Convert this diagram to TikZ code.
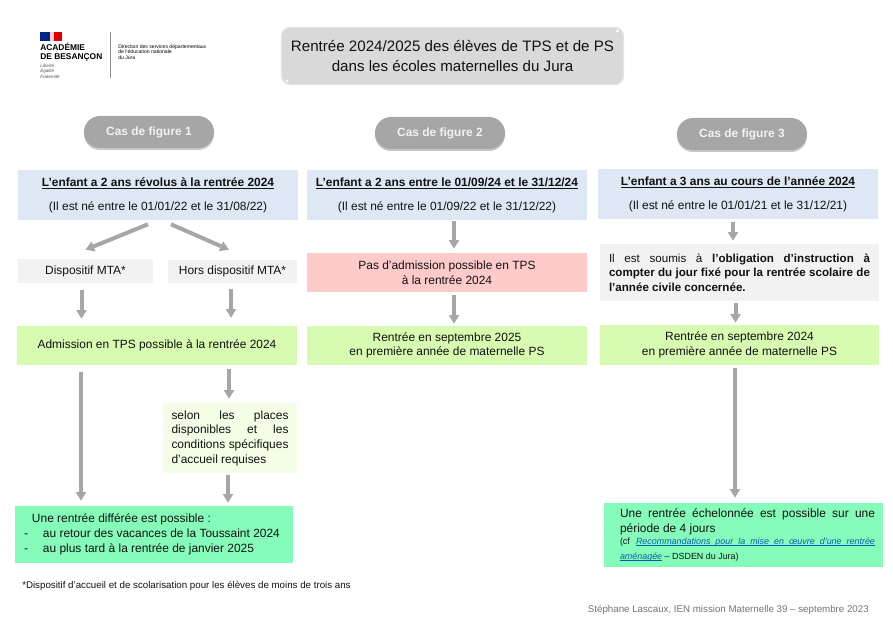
\documentclass[tikz,border=0pt]{standalone}
\usepackage{fontspec}
\setmainfont{Liberation Sans}
\usetikzlibrary{arrows.meta,shadows}
\definecolor{hdr}{HTML}{DDE8F4}
\definecolor{graybox}{HTML}{F2F2F2}
\definecolor{greenbox}{HTML}{D8FBB2}
\definecolor{palegreen}{HTML}{F4FEE6}
\definecolor{redbox}{HTML}{FFCACA}
\definecolor{mint}{HTML}{85FCB9}
\definecolor{arrowgray}{HTML}{A6A6A6}
\definecolor{pill}{HTML}{A6A6A6}
\definecolor{titlegray}{HTML}{D9D9D9}
\definecolor{linkblue}{HTML}{0B5FB5}
\definecolor{txt}{HTML}{111111}
\newlength{\px}\setlength{\px}{0.75pt}
\newcommand{\bodyfont}{\fontsize{8.95}{11}\selectfont}
\newcommand{\natsp}{\spaceskip=0pt\xspaceskip=0pt\relax}
\newcommand{\jl}[2]{\makebox[#1\px][s]{\natsp #2}}
\newcommand{\ulbox}[1]{\leavevmode\sbox0{#1}\rlap{\color{linkblue}\rule[-1.1pt]{\wd0}{.8pt}}\usebox0}
\tikzset{
  x=0.75pt,y=-0.75pt,
  every node/.append style={execute at begin node={\natsp}},
  flat/.style n args={3}{draw=none,fill=#1,minimum width=#2*0.75pt,minimum height=#3*0.75pt,inner sep=0pt,text=txt,font=\bodyfont,align=center},
  tw/.style={text width=#1*0.75pt,align=left},
  pillbox/.style={draw=none,fill=pill,rounded corners=11.9pt,minimum width=130*0.75pt,minimum height=32*0.75pt,inner sep=0pt,text=graybox,font=\bodyfont\bfseries,drop shadow={shadow xshift=0pt,shadow yshift=-1.5pt,opacity=.22,fill=black}},
  titlebox/.style={draw=titlegray!70!white,line width=1pt,fill=titlegray,rounded corners=6.5pt,minimum width=342*0.75pt,minimum height=57*0.75pt,inner sep=0pt,align=center,font=\fontsize{11.35}{14.5}\selectfont,text=txt},
  arr/.style={draw=arrowgray,line width=3pt,-{Triangle[width=7.5pt,length=6.5pt]}},
  free/.style={inner sep=0pt,anchor=west,align=left},
}
\begin{document}
\begin{tikzpicture}
\useasboundingbox (0,0) rectangle (893,623);
% logo
\fill[blue!45!black!85!cyan] (40,32) rectangle (50,41);
\fill[red!85!black] (54,32) rectangle (62,41);
\fill[white!80!red] (50,32) rectangle (54,41);
\node[free,font=\fontsize{6.3}{6.8}\selectfont\bfseries] (acad) at (40,52) {ACADÉMIE\\DE BESANÇON};
\node[free,font=\fontsize{3.4}{4.1}\selectfont\itshape,text=black!70] (dev) at (40,71) {Liberté\\Égalité\\Fraternité};
\draw[black!45,line width=.6pt] (110,32) -- (110,78);
\node[free,font=\fontsize{3.82}{4.2}\selectfont] (dsd) at (118,52) {Direction des services départementaux\\de l'éducation nationale\\du Jura};
% title
\node[titlebox] (title) at (452.5,56) {Rentrée 2024/2025 des élèves de TPS et de PS\\dans les écoles maternelles du Jura};
\fill[white] (617.5,31) circle (1.6);
\fill[white] (287,81) circle (1.6);
% pills
\node[pillbox] (c1) at (149,132) {Cas de figure 1};
\node[pillbox] (c2) at (440,133) {Cas de figure 2};
\node[pillbox] (c3) at (742,134) {Cas de figure 3};
% column 1
\node[flat={hdr}{280}{50}] (h1) at (158,195) {\textbf{\underline{L'enfant a 2 ans révolus à la rentrée 2024}}\\[7pt](Il est né entre le 01/01/22 et le 31/08/22)};
\node[flat={graybox}{135}{24}] (disp) at (85.5,271) {Dispositif MTA*};
\node[flat={graybox}{129}{23}] (hors) at (232.5,271.5) {Hors dispositif MTA*};
\node[flat={greenbox}{280}{39}] (adm) at (157,345.5) {Admission en TPS possible à la rentrée 2024};
\node[flat={palegreen}{134}{70},tw=117] (selon) at (230,438) {\jl{117}{selon les places}\\\jl{117}{disponibles et les}\\\jl{117}{conditions spécifiques}\\d’accueil requises};
\node[flat={mint}{278}{57},tw=268] (diff) at (154,534.5) {\hspace*{12\px}Une rentrée différée est possible :\\\hspace*{4\px}\makebox[19\px][l]{-}au retour des vacances de la Toussaint 2024\\\hspace*{4\px}\makebox[19\px][l]{-}au plus tard à la rentrée de janvier 2025};
% column 2
\node[flat={hdr}{280}{50}] (h2) at (447,195) {\textbf{\underline{L’enfant a 2 ans entre le 01/09/24 et le 31/12/24}}\\[7pt](Il est né entre le 01/09/22 et le 31/12/22)};
\node[flat={redbox}{280}{39}] (pas) at (447,272.5) {Pas d'admission possible en TPS\\à la rentrée 2024};
\node[flat={greenbox}{280}{39}] (r2) at (447,345.5) {Rentrée en septembre 2025\\en première année de maternelle PS};
% column 3
\node[flat={hdr}{280}{50}] (h3) at (738,194) {\textbf{\underline{L’enfant a 3 ans au cours de l’année 2024}}\\[7pt](Il est né entre le 01/01/21 et le 31/12/21)};
\node[flat={graybox}{279}{57},tw=261,font=\fontsize{8.7}{11}\selectfont] (sou) at (739.5,272.5) {\jl{261}{Il est soumis à \textbf{l’obligation d’instruction à}}\\\jl{261}{\textbf{compter du jour fixé pour la rentrée scolaire de}}\\\textbf{l'année civile concernée.}};
\node[flat={greenbox}{279}{40}] (r3) at (739.5,345) {Rentrée en septembre 2024\\en première année de maternelle PS};
\node[flat={mint}{279}{64},tw=263] (ech) at (743.5,535) {\hspace*{8\px}\jl{255}{Une rentrée échelonnée est possible sur une}\\\hspace*{8\px}période de 4 jours\\[1.5pt]
{\fontsize{6.7}{7.8}\selectfont\hspace*{8\px}\jl{16}{(cf }\ulbox{\jl{239}{\color{linkblue}\itshape Recommandations pour la mise en œuvre d’une rentrée}}\\\hspace*{8\px}\ulbox{\color{linkblue}\itshape aménagée}\ – DSDEN du Jura)}};
% connectors
\draw[arr] ([shift={(-10,4)}]h1.south) -- ([shift={(0,-9)}]disp.north);
\draw[arr] ([shift={(13,4)}]h1.south) -- ([shift={(-3.5,-10)}]hors.north);
\draw[arr] ([shift={(-4,7)}]disp.south) -- ([shift={(-75.5,-7)}]adm.north);
\draw[arr] ([shift={(-1.5,6)}]hors.south) -- ([shift={(74,-8)}]adm.north);
\draw[arr] ([shift={(-76,7)}]adm.south) -- ([shift={(-73,-5)}]diff.north);
\draw[arr] ([shift={(72,4)}]adm.south) -- ([shift={(-1,-4)}]selon.north);
\draw[arr] ([shift={(-2,2)}]selon.south) -- ([shift={(74,-3)}]diff.north);
\draw[arr] ([shift={(7,1)}]h2.south) -- ([shift={(7,-4)}]pas.north);
\draw[arr] ([shift={(7,3)}]pas.south) -- ([shift={(7,-2)}]r2.north);
\draw[arr] ([shift={(-5,3)}]h3.south) -- ([shift={(-6.5,-3)}]sou.north);
\draw[arr] ([shift={(-4,2)}]sou.south) -- ([shift={(-4,-2)}]r3.north);
\draw[arr] ([shift={(-4.5,3)}]r3.south) -- ([shift={(-8.5,-5)}]ech.north);
% notes
\node[free,font=\fontsize{7.3}{9}\selectfont,text=txt] (foot) at (22,586) {*Dispositif d'accueil et de scolarisation pour les élèves de moins de trois ans};
\node[free,anchor=east,font=\fontsize{7.3}{9}\selectfont,text=black!55] (cred) at (869,610) {Stéphane Lascaux, IEN mission Maternelle 39 – septembre 2023};
\end{tikzpicture}
\end{document}
